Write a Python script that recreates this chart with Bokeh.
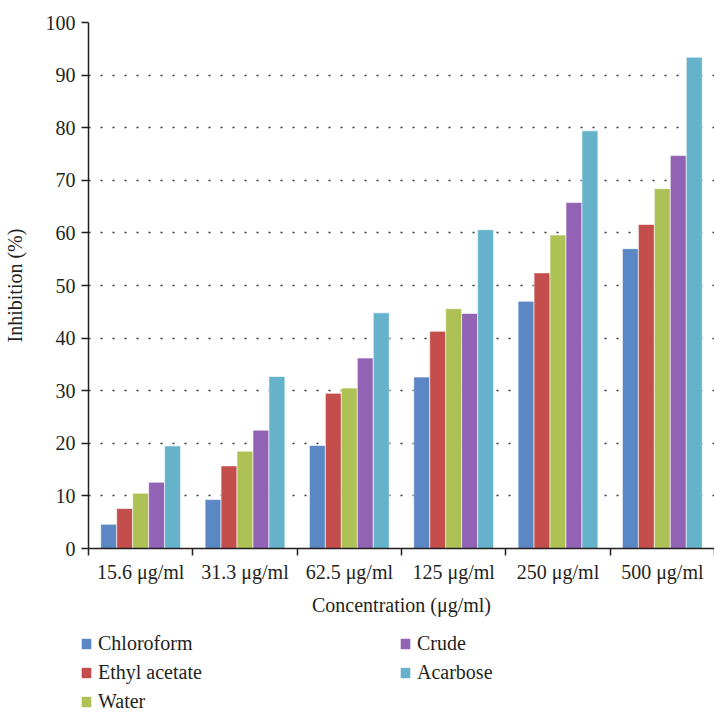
from bokeh.plotting import figure
from bokeh.layouts import column
from bokeh.models import FixedTicker, Legend, LegendItem, ColumnDataSource, Range1d
from bokeh.embed import file_html
from bokeh.resources import INLINE

categories = ["15.6 μg/ml", "31.3 μg/ml", "62.5 μg/ml", "125 μg/ml", "250 μg/ml", "500 μg/ml"]
series_names = ["Chloroform", "Ethyl acetate", "Water", "Crude", "Acarbose"]
chloroform = [4.6, 9.3, 19.6, 32.6, 47.0, 57.0]
ethyl_acetate = [7.6, 15.7, 29.5, 41.3, 52.4, 61.6]
water = [10.5, 18.5, 30.5, 45.6, 59.6, 68.4]
crude = [12.6, 22.5, 36.2, 44.7, 65.8, 74.7]
acarbose = [19.5, 32.7, 44.8, 60.6, 79.4, 93.4]
y_ticks = list(range(0, 101, 10))

series_values = [chloroform, ethyl_acetate, water, crude, acarbose]
colors = ["#5B88C4", "#C44E4B", "#AEC155", "#9263B4", "#65B2CA"]

FONT = "Liberation Serif"
FS = "20px"
TXT = "#231f20"

p = figure(frame_width=626, frame_height=526, output_backend="svg", toolbar_location=None,
           x_range=Range1d(0, len(categories)), y_range=Range1d(0, 100),
           min_border_left=82, min_border_right=0, min_border_top=22, min_border_bottom=81)
p.outline_line_color = None
p.background_fill_color = "white"
p.border_fill_color = "white"

bw = 0.153
sources = []
for k, (name, vals, col) in enumerate(zip(series_names, series_values, colors)):
    xs = [i + 0.5 + (k - 2) * bw for i in range(len(categories))]
    src = ColumnDataSource(dict(x=xs, top=vals))
    sources.append(src)
    p.vbar(x="x", top="top", bottom=0, width=bw, source=src,
           fill_color=col, line_color="white", line_alpha=0.6, line_width=1)

# x axis: labels centred on categories, ticks at category boundaries
xt = [i + 0.5 for i in range(len(categories))]
p.xaxis.ticker = FixedTicker(ticks=xt, minor_ticks=list(range(len(categories) + 1)))
p.xaxis.major_label_overrides = {t: c for t, c in zip(xt, categories)}
p.xaxis.major_tick_out = 0
p.xaxis.major_tick_in = 0
p.xaxis.minor_tick_out = 7
p.xaxis.minor_tick_in = 0
p.xaxis.minor_tick_line_color = TXT
p.xaxis.minor_tick_line_width = 1.5
p.xaxis.major_label_standoff = 5
p.xaxis.axis_label = "Concentration (μg/ml)"
p.xaxis.axis_label_standoff = 8

# y axis
p.yaxis.ticker = FixedTicker(ticks=y_ticks)
p.yaxis.major_tick_out = 7
p.yaxis.major_tick_in = 0
p.yaxis.minor_tick_line_color = None
p.yaxis.major_label_standoff = 6
p.yaxis.axis_label = "Inhibition (%)"
p.yaxis.axis_label_standoff = 17

for ax in [p.xaxis[0], p.yaxis[0]]:
    ax.axis_line_color = TXT
    ax.axis_line_width = 1.5
    ax.major_tick_line_color = TXT
    ax.major_tick_line_width = 1.5
    ax.major_label_text_font = FONT
    ax.major_label_text_font_size = FS
    ax.major_label_text_color = TXT
    ax.axis_label_text_font = FONT
    ax.axis_label_text_font_size = FS
    ax.axis_label_text_font_style = "normal"
    ax.axis_label_text_color = TXT

p.xgrid.grid_line_color = None
p.ygrid.grid_line_color = "#333333"
p.ygrid.grid_line_dash = "2 10"
p.ygrid.grid_line_width = 1.3

# legend panel below the chart (its own frame, so the legend is not clipped)
lg = figure(frame_width=708, frame_height=84, output_backend="svg", toolbar_location=None,
            x_range=Range1d(0, 1), y_range=Range1d(200, 201),
            min_border_left=0, min_border_right=0, min_border_top=0, min_border_bottom=0)
lg.axis.visible = False
lg.grid.grid_line_color = None
lg.outline_line_color = None
items = []
for name, col, src in zip(series_names, colors, sources):
    r = lg.vbar(x="x", top="top", bottom=0, width=bw, source=src, fill_color=col, line_color=None)
    items.append(LegendItem(label=name, renderers=[r]))
legend = Legend(items=items, nrows=3, orientation="vertical", location=(80, 0),
                label_width=295, label_height=20, glyph_width=12, glyph_height=13,
                label_standoff=6, spacing=6, padding=0, margin=0, border_line_color=None,
                background_fill_alpha=0,
                label_text_font=FONT, label_text_font_size=FS, label_text_color=TXT)
lg.add_layout(legend, "center")

layout = column(p, lg, spacing=0)
open("out.html", "w").write(file_html(layout, INLINE))
